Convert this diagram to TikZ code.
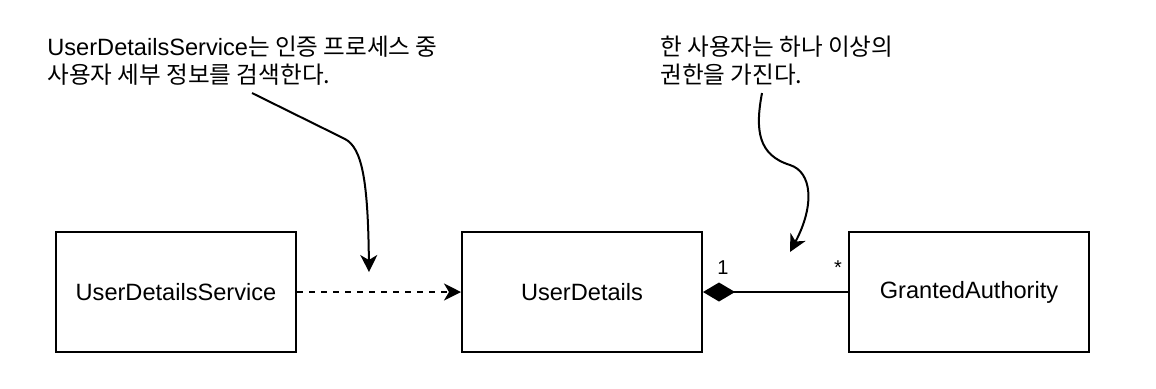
\documentclass[tikz,border=0pt]{standalone}
\usepackage{fontspec}
\setmainfont{Liberation Sans}
\newfontfamily\kr{Noto Sans CJK KR}
\usetikzlibrary{arrows.meta}

\begin{document}
\begin{tikzpicture}[x=0.5pt, y=-0.5pt,
    classbox/.style={draw, line width=1pt, minimum width=120pt, minimum height=60pt, font=\fontsize{11.8}{14}\selectfont},
    note/.style={align=left, inner sep=0pt, anchor=base west, font=\fontsize{11.8}{14}\selectfont},
    mult/.style={inner sep=0pt, anchor=base, font=\fontsize{10}{10}\selectfont},
    headarrow/.style={line width=1pt, -{Stealth[length=8.5pt, width=8.5pt, inset=2.5pt]}}]
  \useasboundingbox (0,0) rectangle (1156,388);
  % 클래스 상자
  \node[classbox] (uds) at (176,292) {UserDetailsService};
  \node[classbox] (ud) at (582,292) {UserDetails};
  \node[classbox] (ga) at (969,292) {GrantedAuthority};
  % 의존 관계 (점선)
  \draw[headarrow, dash pattern=on 3pt off 3pt] (uds.east) -- (ud.west);
  % 합성 관계와 다중성
  \draw[line width=1pt, {Diamond[length=16pt, width=9.5pt]}-] (ud.east) -- (ga.west);
  \node[mult] (one) at (723,274) {1};
  \node[mult] (many) at (838,274) {*};
  % 설명 메모
  \node[note] (note1) at (47,83) {UserDetailsService{\kr 는 인증 프로세스 중}\\{\kr 사용자 세부 정보를 검색한다.}};
  \node[note] (note2) at (660,83) {{\kr 한 사용자는 하나 이상의}\\{\kr 권한을 가진다.}};
  % 메모 화살표
  \coordinate (n1a) at (252,93);
  \coordinate (n1b) at (369,272);
  \coordinate (n2a) at (762,93);
  \coordinate (n2b) at (790,252);
  \draw[headarrow] (n1a) -- (345,139) .. controls (362,148) and (368,180) .. (n1b);
  \draw[headarrow] (n2a) .. controls (755,130) and (758,155) .. (790,165)
                         .. controls (812,172) and (815,205) .. (n2b);
\end{tikzpicture}
\end{document}
